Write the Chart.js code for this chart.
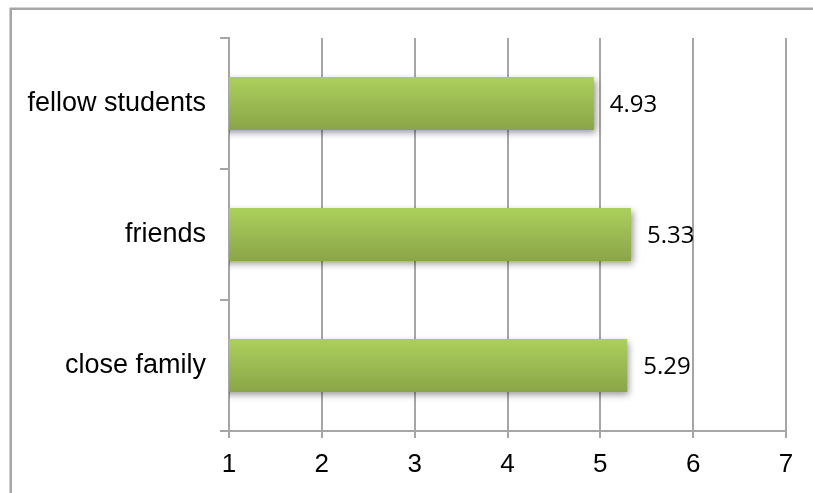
<!DOCTYPE html>
<html lang="en">
  <head>
    <meta charset="UTF-8" />
    <title>Support ratings</title>
    <script src="https://cdn.jsdelivr.net/npm/chart.js"></script>
    <style>
      html, body { margin: 0; padding: 0; background: #fff; overflow: hidden; }
    </style>
  </head>
  <body>
    <canvas id="supportChart" width="813" height="493"></canvas>

    <script>
      // Chart data
      const categories = ["fellow students", "friends", "close family"];
      const meanScores = [4.93, 5.33, 5.29];
      const xTicks = [1, 2, 3, 4, 5, 6, 7];

      const barPct = 0.405;
      const gridGray = "#a6a6a6";

      // Vertical green gradient for each bar
      function barFill(context) {
        const chart = context.chart;
        const yScale = chart.scales.y;
        if (!yScale || context.dataIndex === undefined) return "#9bbb59";
        const mid = yScale.getPixelForValue(context.dataIndex);
        const half = (yScale.height / categories.length) * barPct / 2;
        if (!isFinite(mid) || !isFinite(half)) return "#9bbb59";
        const g = chart.ctx.createLinearGradient(0, mid - half, 0, mid + half);
        g.addColorStop(0, "#acd05c");
        g.addColorStop(1, "#8aa548");
        return g;
      }

      // Outer frame, bar shadow and value labels
      const decorations = {
        id: "decorations",
        beforeDraw(chart) {
          const c = chart.ctx;
          c.save();
          c.strokeStyle = gridGray;
          c.lineWidth = 2.5;
          c.strokeRect(10.75, 8.75, 1000, 1000);
          c.restore();
        },
        beforeDatasetsDraw(chart) {
          const c = chart.ctx;
          c.save();
          c.shadowColor = "rgba(0, 0, 0, 0.42)";
          c.shadowBlur = 7;
          c.shadowOffsetX = 2;
          c.shadowOffsetY = 3;
        },
        afterDatasetsDraw(chart) {
          const c = chart.ctx;
          c.restore();
          c.save();
          c.font = '24px "Open Sans"';
          c.fillStyle = "#000";
          c.textAlign = "left";
          c.textBaseline = "middle";
          chart.getDatasetMeta(0).data.forEach((bar, i) => {
            c.fillText(meanScores[i].toFixed(2), bar.x + 16, bar.y + 2);
          });
          c.restore();
        },
      };

      new Chart(document.getElementById("supportChart"), {
        type: "bar",
        data: {
          labels: categories,
          datasets: [
            {
              data: meanScores,
              backgroundColor: barFill,
              borderWidth: 0,
              categoryPercentage: 1,
              barPercentage: barPct,
            },
          ],
        },
        options: {
          indexAxis: "y",
          responsive: false,
          animation: false,
          events: [],
          layout: { padding: { left: 0, top: 38, right: 27, bottom: 0 } },
          plugins: {
            legend: { display: false },
            tooltip: { enabled: false },
          },
          scales: {
            x: {
              min: 1,
              max: 7,
              afterBuildTicks: (scale) => {
                scale.ticks = xTicks.map((v) => ({ value: v }));
              },
              afterFit: (scale) => {
                scale.height = 62;
              },
              grid: {
                color: gridGray,
                lineWidth: 2,
                tickLength: 7,
              },
              border: { color: gridGray, width: 2 },
              ticks: {
                color: "#000",
                padding: 11,
                font: { family: "Liberation Sans", size: 26 },
              },
            },
            y: {
              afterFit: (scale) => {
                scale.width = 229;
              },
              grid: {
                drawOnChartArea: false,
                color: gridGray,
                lineWidth: 2,
                tickLength: 9,
              },
              border: { color: gridGray, width: 2 },
              ticks: {
                color: "#000",
                padding: 14,
                font: { family: "Liberation Sans", size: 27 },
              },
            },
          },
        },
        plugins: [decorations],
      });
    </script>
  </body>
</html>
